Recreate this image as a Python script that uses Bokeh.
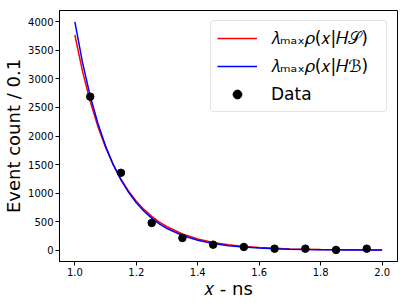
from bokeh.plotting import figure
from bokeh.models import FixedTicker, Range1d, Legend, LegendItem, CustomJSTickFormatter
from bokeh.embed import file_html
from bokeh.resources import INLINE

# model curves
curve_x = [1.0, 1.025, 1.05, 1.075, 1.10, 1.125, 1.15, 1.175, 1.20, 1.225, 1.25, 1.275, 1.30,
           1.35, 1.40, 1.45, 1.50, 1.55, 1.60, 1.65, 1.70, 1.75, 1.80, 1.85, 1.90, 1.95, 2.00]
signal_y = [3770, 3133, 2604, 2164, 1798, 1494, 1242, 1032, 857, 713, 592, 492, 409,
            283, 195, 135, 93, 65, 45, 31, 21, 15, 10, 7, 5, 3, 2]
background_y = [4000, 3286, 2700, 2218, 1823, 1497, 1230, 1011, 830, 682, 561, 461, 378,
                255, 172, 116, 78, 53, 36, 24, 16, 11, 7, 5, 3, 2, 1.5]

# data points
data_x = [1.05, 1.15, 1.25, 1.35, 1.45, 1.55, 1.65, 1.75, 1.85, 1.95]
data_y = [2690, 1355, 475, 212, 95, 55, 25, 25, 3, 25]

x_ticks = [1.0, 1.2, 1.4, 1.6, 1.8, 2.0]
y_ticks = [0, 500, 1000, 1500, 2000, 2500, 3000, 3500, 4000]

FONT = "DejaVu Sans"

p = figure(width=407, height=306, output_backend="svg", toolbar_location=None,
           x_range=Range1d(0.95, 2.05), y_range=Range1d(-200, 4200),
           min_border_top=10, min_border_right=10, min_border_left=0, min_border_bottom=45)
p.background_fill_color = "white"
p.border_fill_color = "white"
p.outline_line_color = "black"
p.outline_line_width = 1
p.grid.visible = False

r_s = p.line(curve_x, signal_y, line_color="#ff0000", line_width=1.5)
r_b = p.line(curve_x, background_y, line_color="#0000ff", line_width=1.5)
r_d = p.scatter(data_x, data_y, size=7.5, color="black")

for ax in (p.xaxis[0], p.yaxis[0]):
    ax.major_label_text_font = FONT
    ax.major_label_text_font_size = "10px"
    ax.major_label_text_color = "black"
    ax.axis_label_text_font = FONT
    ax.axis_label_text_font_size = "18px"
    ax.axis_label_text_font_style = "normal"
    ax.axis_label_text_color = "black"
    ax.major_tick_in = 0
    ax.major_tick_out = 4
    ax.minor_tick_in = 0
    ax.minor_tick_out = 0
    ax.major_label_standoff = 2
    ax.axis_label_standoff = 1
    ax.axis_line_color = "black"
    ax.major_tick_line_color = "black"

p.xaxis.axis_label_standoff = -1
p.xaxis.ticker = FixedTicker(ticks=x_ticks)
p.yaxis.ticker = FixedTicker(ticks=y_ticks)
p.xaxis.formatter = CustomJSTickFormatter(code="return tick.toFixed(1);")
p.xaxis.axis_label = "\U0001D465 - ns"
p.yaxis.axis_label = "Event count / 0.1"

legend = Legend(items=[
    LegendItem(label="\U0001D706ₘₐₓ\U0001D70C(\U0001D465|\U0001D43B\U0001D4AE)", renderers=[r_s]),
    LegendItem(label="\U0001D706ₘₐₓ\U0001D70C(\U0001D465|\U0001D43Bℬ)", renderers=[r_b]),
    LegendItem(label="Data", renderers=[r_d]),
], location="top_right")
legend.label_text_font = FONT
legend.label_text_font_size = "17px"
legend.label_text_color = "black"
legend.glyph_width = 40
legend.glyph_height = 22
legend.label_height = 22
legend.label_width = 109
legend.spacing = 6
legend.padding = 6
legend.margin = 10
legend.label_standoff = 14
legend.border_line_color = "#cccccc"
legend.border_radius = 4
legend.background_fill_alpha = 0.8
p.add_layout(legend)

open("out.html", "w").write(file_html(p, INLINE))
